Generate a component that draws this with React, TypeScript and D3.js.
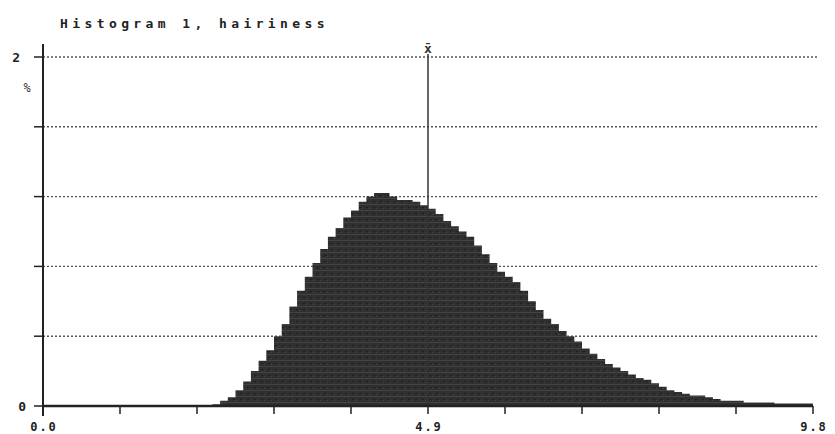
import React from "react";
import * as d3 from "d3";

const title = "Histogram 1, hairiness";
const xTickLabels = ["0.0", "4.9", "9.8"];
const xLabelValues = [0, 4.9, 9.8];
const yTickValues = [0, 0.4, 0.8, 1.2, 1.6, 2.0];
const yLabelValues = [0, 2];
const meanValue = 4.9;
const binWidth = 0.098;
const firstBin = 22; // first non-empty bin index
const binPercent = [
  0.01, 0.03, 0.05, 0.09, 0.14, 0.2, 0.26, 0.32, 0.4, 0.47,
  0.57, 0.66, 0.74, 0.82, 0.9, 0.97, 1.02, 1.08, 1.12, 1.17,
  1.2, 1.22, 1.22, 1.2, 1.18, 1.18, 1.17, 1.15, 1.13, 1.1,
  1.06, 1.03, 1.0, 0.97, 0.92, 0.87, 0.82, 0.77, 0.74, 0.71,
  0.66, 0.6, 0.55, 0.5, 0.47, 0.43, 0.4, 0.37, 0.33, 0.3,
  0.27, 0.24, 0.22, 0.2, 0.18, 0.16, 0.15, 0.13, 0.11, 0.09,
  0.08, 0.07, 0.06, 0.06, 0.05, 0.04, 0.03, 0.03, 0.03, 0.02,
  0.02, 0.02, 0.02, 0.015, 0.015, 0.015, 0.015, 0.015,
];

export default function App() {
  const W = 835, H = 434;
  const x = d3.scaleLinear().domain([0, 9.8]).range([43, 813]);
  const y = d3.scaleLinear().domain([0, 2]).range([406, 57]);

  const pts: [number, number][] = binPercent.map((v, i) => [(firstBin + i) * binWidth, v]);
  pts.unshift([firstBin * binWidth, 0]);
  pts.push([(firstBin + binPercent.length) * binWidth, binPercent[binPercent.length - 1]]);
  const area = d3
    .area<[number, number]>()
    .x((d) => x(d[0]))
    .y0(y(0))
    .y1((d) => y(d[1]))
    .curve(d3.curveStepAfter);

  const xTicks = d3.range(0, 11).map((i) => i * 0.98);
  const mono = "'DejaVu Sans Mono', monospace";

  return (
    <svg
      width={W}
      height={H}
      style={{ position: "absolute", left: 0, top: 0, background: "#fff" }}
    >
      <defs>
        <pattern id="tex" width="7" height="6" patternUnits="userSpaceOnUse">
          <rect width="7" height="6" fill="#2f2f2f" />
          <rect y="0" width="7" height="1" fill="#434343" />
          <rect x="2" y="3" width="2" height="1" fill="#1e1e1e" />
          <rect x="5" y="4" width="1" height="1" fill="#474747" />
        </pattern>
      </defs>
      <text
        x={60}
        y={28}
        fontFamily={mono}
        fontSize={13}
        fontWeight="bold"
        letterSpacing={4.4}
        fill="#222"
      >
        {title}
      </text>

      {yTickValues.slice(1).map((v) => (
        <line
          key={v}
          x1={x(0)}
          x2={817}
          y1={y(v)}
          y2={y(v)}
          stroke="#555"
          strokeWidth={1.4}
          strokeDasharray="2,2"
        />
      ))}

      <path d={area(pts) || ""} fill="url(#tex)" />

      {/* mean line */}
      <line x1={x(meanValue)} x2={x(meanValue)} y1={54} y2={y(0)} stroke="#333" strokeWidth={1.5} />
      <text
        x={x(meanValue)}
        y={53}
        textAnchor="middle"
        fontFamily={mono}
        fontSize={13}
        fontWeight="bold"
        fill="#333"
      >
        x̄
      </text>

      {/* y axis */}
      <line x1={x(0)} x2={x(0)} y1={44} y2={416} stroke="#222" strokeWidth={2} />
      {yTickValues.map((v) => (
        <line key={v} x1={34} x2={x(0)} y1={y(v)} y2={y(v)} stroke="#222" strokeWidth={1.5} />
      ))}
      {yLabelValues.map((v) => (
        <text
          key={v}
          x={v === 0 ? 26 : 20}
          y={y(v) + 5}
          textAnchor="end"
          fontFamily={mono}
          fontSize={13}
          fontWeight="bold"
          fill="#222"
        >
          {v}
        </text>
      ))}
      <text x={27} y={92} textAnchor="middle" fontFamily={mono} fontSize={12} fill="#333">
        %
      </text>

      {/* x axis */}
      <line x1={x(0)} x2={x(9.8)} y1={y(0)} y2={y(0)} stroke="#222" strokeWidth={2.5} />
      {xTicks.map((v, i) => (
        <line key={i} x1={x(v)} x2={x(v)} y1={y(0)} y2={414} stroke="#222" strokeWidth={1.5} />
      ))}
      {xLabelValues.map((v, i) => (
        <text
          key={v}
          x={x(v) + 1}
          y={431}
          textAnchor="middle"
          fontFamily={mono}
          fontSize={12}
          fontWeight="bold"
          letterSpacing={2}
          fill="#222"
        >
          {xTickLabels[i]}
        </text>
      ))}
    </svg>
  );
}
